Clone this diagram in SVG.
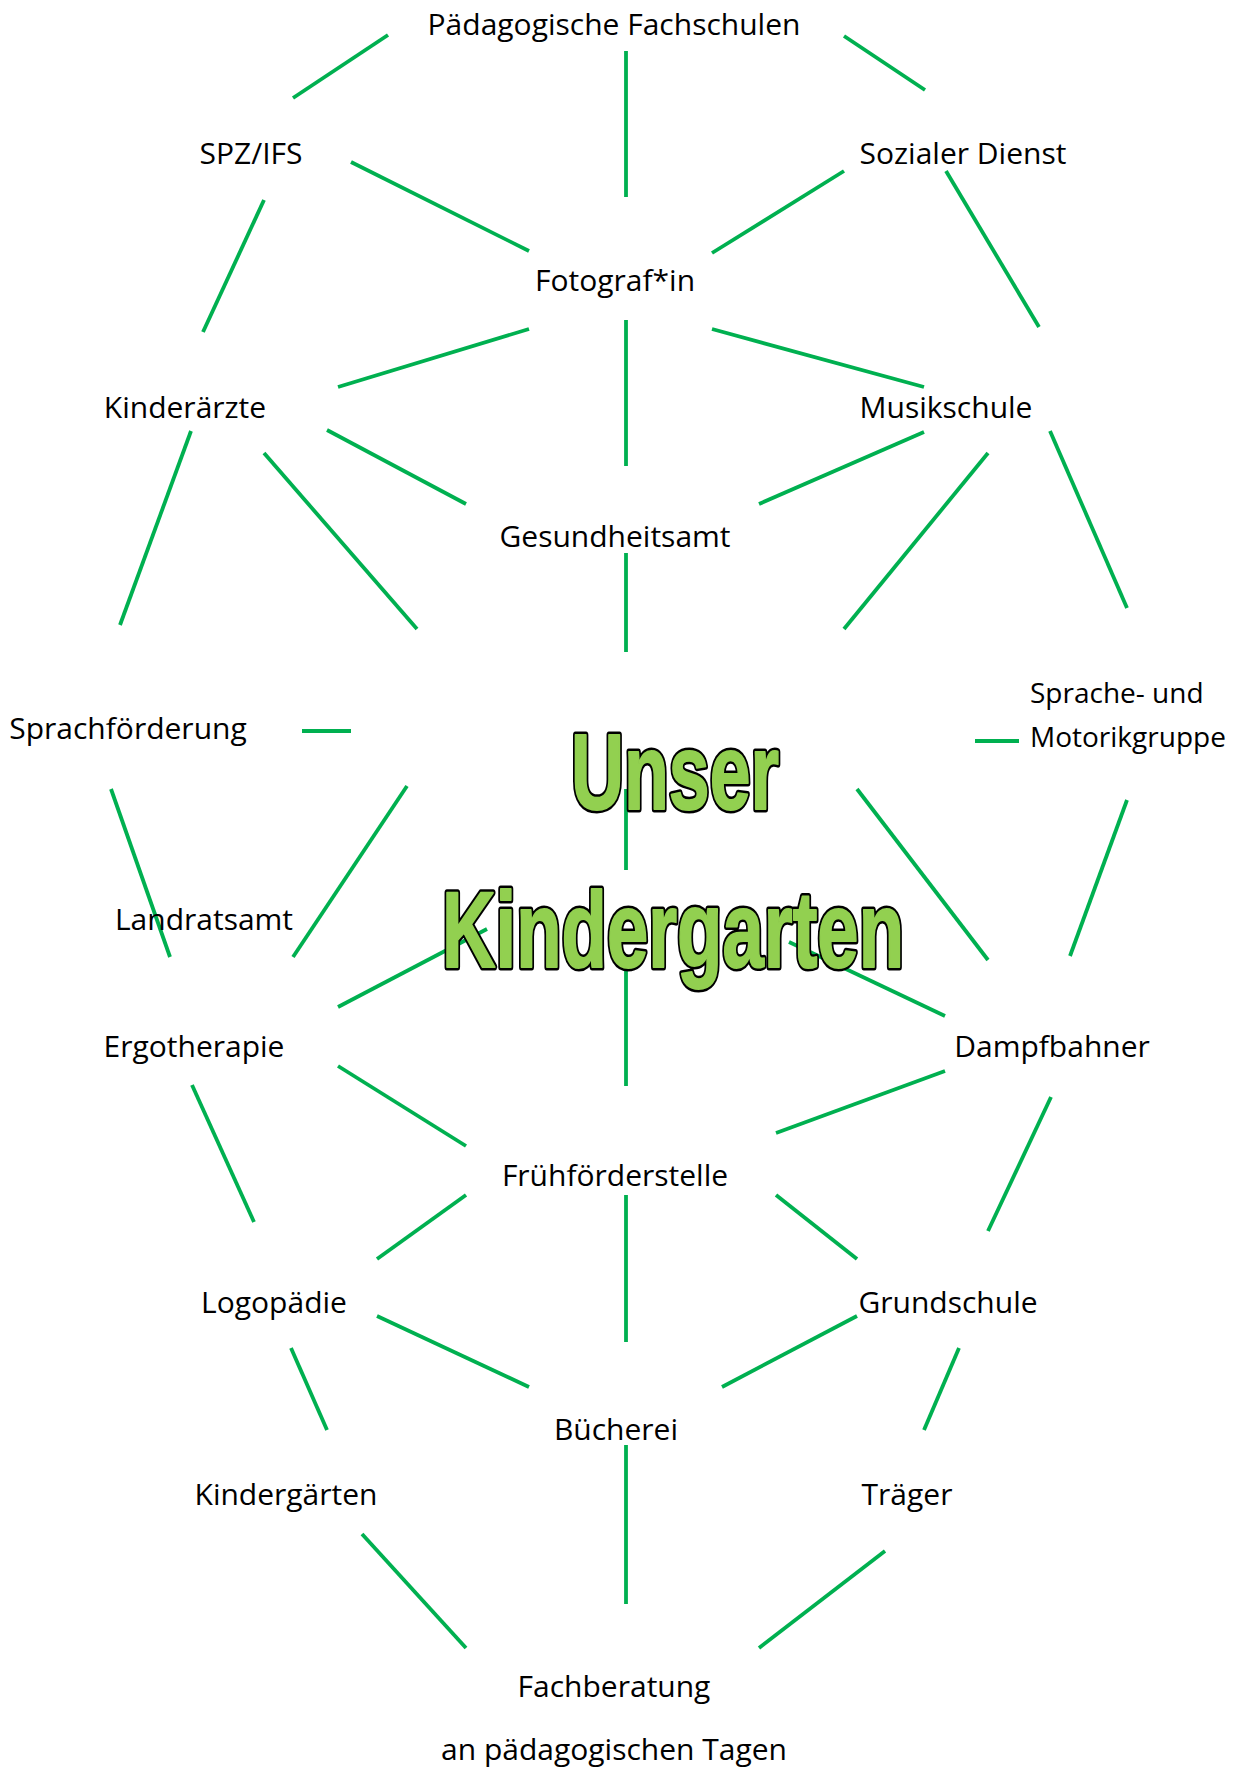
<svg xmlns="http://www.w3.org/2000/svg" width="1236" height="1769" viewBox="0 0 1236 1769">
<style>
.c line{stroke:#00B050;stroke-width:3.8;fill:none}
.t{font-family:"Open Sans","Noto Sans",sans-serif;font-size:30px;fill:#000;text-anchor:middle}
.s{font-family:"Open Sans","Noto Sans",sans-serif;font-size:28px;fill:#000}
.big{font-family:"Liberation Sans",Arial,sans-serif;font-weight:bold;font-size:107px;stroke-linejoin:round}
.out{fill:#000;stroke:#000;stroke-width:7}
.in{fill:#92D050;stroke:#92D050;stroke-width:2}
</style>
<rect width="1236" height="1769" fill="#fff"/>
<g id="connectors" class="c">
<line x1="293" y1="98" x2="388" y2="35"/>
<line x1="626" y1="51" x2="626" y2="197"/>
<line x1="844" y1="36" x2="925" y2="90"/>
<line x1="351" y1="162" x2="529" y2="251"/>
<line x1="712" y1="253" x2="844" y2="171"/>
<line x1="264" y1="200" x2="203" y2="332"/>
<line x1="946" y1="171" x2="1039" y2="327"/>
<line x1="338" y1="387" x2="529" y2="329"/>
<line x1="626" y1="320" x2="626" y2="466"/>
<line x1="712" y1="329" x2="924" y2="387"/>
<line x1="191" y1="431" x2="120" y2="625"/>
<line x1="327" y1="430" x2="466" y2="504"/>
<line x1="264" y1="453" x2="417" y2="629"/>
<line x1="924" y1="432" x2="759" y2="504"/>
<line x1="988" y1="453" x2="844" y2="629"/>
<line x1="1050" y1="431" x2="1127" y2="608"/>
<line x1="626" y1="553" x2="626" y2="652"/>
<line x1="302" y1="731" x2="351" y2="731"/>
<line x1="975" y1="741" x2="1019" y2="741"/>
<line x1="111" y1="789" x2="170" y2="957"/>
<line x1="407" y1="786" x2="293" y2="957"/>
<line x1="626" y1="789" x2="626" y2="870"/>
<line x1="857" y1="789" x2="988" y2="960"/>
<line x1="1127" y1="800" x2="1070" y2="956"/>
<line x1="338" y1="1007" x2="487" y2="929"/>
<line x1="789" y1="942" x2="945" y2="1016"/>
<line x1="626" y1="970" x2="626" y2="1086"/>
<line x1="192" y1="1085" x2="254" y2="1222"/>
<line x1="338" y1="1066" x2="466" y2="1146"/>
<line x1="945" y1="1071" x2="776" y2="1133"/>
<line x1="1051" y1="1097" x2="988" y2="1231"/>
<line x1="466" y1="1195" x2="377" y2="1259"/>
<line x1="626" y1="1195" x2="626" y2="1342"/>
<line x1="776" y1="1195" x2="857" y2="1259"/>
<line x1="377" y1="1316" x2="529" y2="1387"/>
<line x1="857" y1="1316" x2="722" y2="1387"/>
<line x1="291" y1="1348" x2="327" y2="1430"/>
<line x1="959" y1="1348" x2="924" y2="1430"/>
<line x1="626" y1="1445" x2="626" y2="1604"/>
<line x1="362" y1="1534" x2="466" y2="1648"/>
<line x1="885" y1="1551" x2="759" y2="1648"/>
</g>
<g id="n-paed"><text class="t" x="614" y="35">Pädagogische Fachschulen</text></g>
<g id="n-spz"><text class="t" x="251" y="164">SPZ/IFS</text></g>
<g id="n-sozial"><text class="t" x="963" y="164">Sozialer Dienst</text></g>
<g id="n-foto"><text class="t" x="615" y="291">Fotograf*in</text></g>
<g id="n-kinderaerzte"><text class="t" x="185" y="418">Kinderärzte</text></g>
<g id="n-musik"><text class="t" x="946" y="418">Musikschule</text></g>
<g id="n-gesund"><text class="t" x="615" y="547">Gesundheitsamt</text></g>
<g id="n-sprachf"><text class="t" x="128" y="739">Sprachförderung</text></g>
<g id="n-sprache"><text class="s" x="1030" y="703">Sprache- und</text><text class="s" x="1030" y="747">Motorikgruppe</text></g>
<g id="n-landrat"><text class="t" x="204" y="930">Landratsamt</text></g>
<g id="n-ergo"><text class="t" x="194" y="1057">Ergotherapie</text></g>
<g id="n-dampf"><text class="t" x="1052" y="1057">Dampfbahner</text></g>
<g id="n-fruehf"><text class="t" x="615" y="1186">Frühförderstelle</text></g>
<g id="n-logo"><text class="t" x="274" y="1313">Logopädie</text></g>
<g id="n-grund"><text class="t" x="948" y="1313">Grundschule</text></g>
<g id="n-buech"><text class="t" x="616" y="1440">Bücherei</text></g>
<g id="n-kiga"><text class="t" x="286" y="1505">Kindergärten</text></g>
<g id="n-traeger"><text class="t" x="907" y="1505">Träger</text></g>
<g id="n-fach"><text class="t" x="614" y="1697">Fachberatung</text><text class="t" x="614" y="1760">an pädagogischen Tagen</text></g>
<g id="n-center">
<text class="big out" x="571" y="809" textLength="208" lengthAdjust="spacingAndGlyphs">Unser</text>
<text class="big out" x="442" y="967" textLength="462" lengthAdjust="spacingAndGlyphs">Kindergarten</text>
<text class="big in" x="571" y="809" textLength="208" lengthAdjust="spacingAndGlyphs">Unser</text>
<text class="big in" x="442" y="967" textLength="462" lengthAdjust="spacingAndGlyphs">Kindergarten</text>
</g>
</svg>
